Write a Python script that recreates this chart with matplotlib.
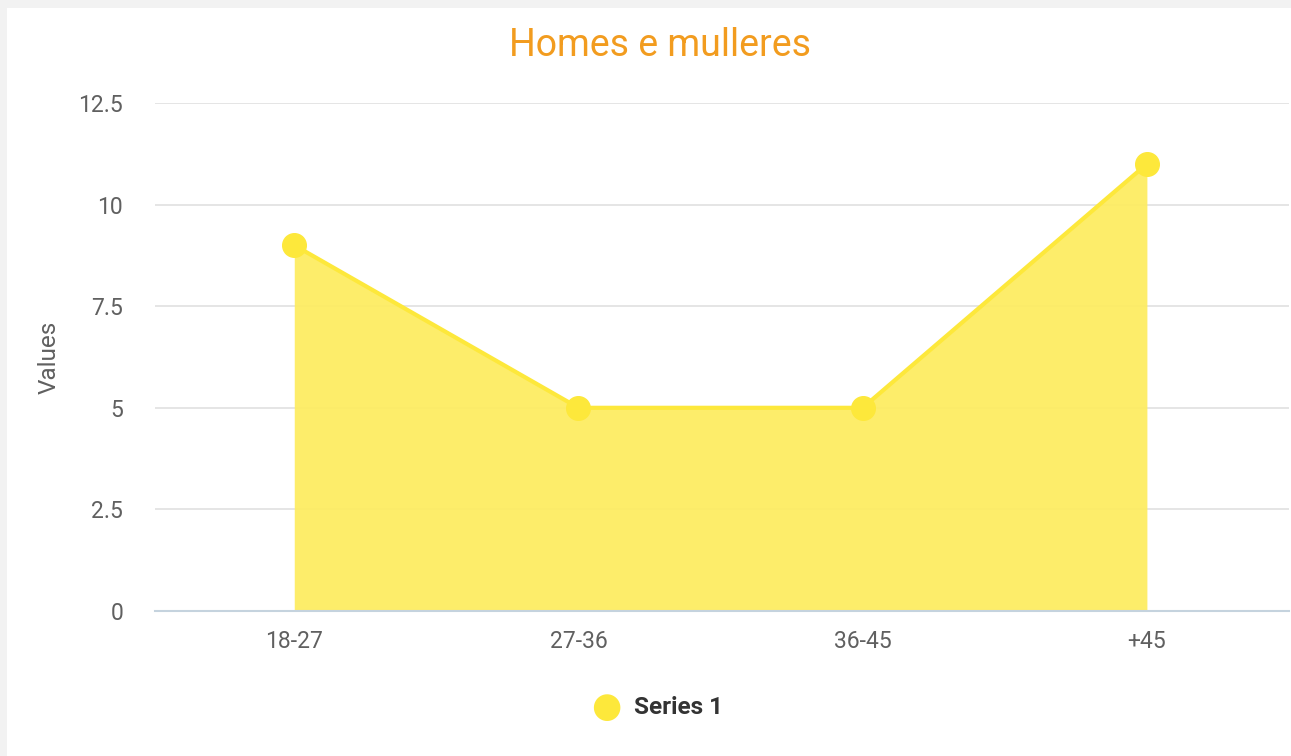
import matplotlib.pyplot as plt
from matplotlib.patches import Rectangle

plt.rcParams['font.family'] = ['Roboto', 'DejaVu Sans']

categories = ['18-27', '27-36', '36-45', '+45']
values = [9, 5, 5, 11]
yticks = [0, 2.5, 5, 7.5, 10, 12.5]
yticklabels = ['0', '2.5', '5', '7.5', '10', '12.5']

yellow = '#fde83b'
fill_yellow = '#fdec62'

fig = plt.figure(figsize=(12.91, 7.56), dpi=100)
fig.patch.set_facecolor('#f2f2f2')
# white card behind everything
fig.patches.append(Rectangle((7 / 1291, 0), 1 - 7 / 1291, 1 - 8 / 756,
                             transform=fig.transFigure, facecolor='white',
                             edgecolor='none', zorder=-10))

ax = fig.add_axes([155 / 1291, 1 - 611 / 756, 1134 / 1291, 508 / 756])
ax.set_facecolor('none')
x = list(range(len(categories)))
ax.fill_between(x, values, 0, color=fill_yellow, alpha=0.95, linewidth=0, zorder=2)
ax.plot(x, values, color=yellow, linewidth=3, zorder=3)
ax.plot(x, values, 'o', color=yellow, markersize=17, zorder=4)

ax.set_xlim(-0.49, len(categories) - 0.5)
ax.set_ylim(0, 12.5)
ax.set_yticks(yticks)
ax.set_yticklabels(yticklabels)
ax.set_xticks(x)
ax.set_xticklabels(categories)
ax.tick_params(axis='both', length=0, labelsize=16.5, colors='#606060')
ax.tick_params(axis='y', pad=23)
ax.tick_params(axis='x', pad=14)
ax.grid(axis='y', color='#e3e3e3', linewidth=1.3, zorder=0)
ax.set_axisbelow(True)
for s in ['top', 'right', 'left']:
    ax.spines[s].set_visible(False)
ax.spines['bottom'].set_color('#c5d3de')
ax.spines['bottom'].set_linewidth(1.5)
ax.spines['bottom'].set_zorder(5)

ax.set_ylabel('Values', fontsize=17.5, color='#606060', labelpad=13)

fig.text(660 / 1291, 1 - 45 / 756, 'Homes e mulleres', fontsize=27,
         color='#f29c1f', ha='center', va='center')

# legend
fig.text(606 / 1291, 1 - 707 / 756, '\u25cf', fontsize=25, color=yellow,
         ha='center', va='center', family=['DejaVu Sans'])
fig.text(634 / 1291, 1 - 707 / 756, 'Series 1', fontsize=17.5, fontweight='bold',
         color='#333333', ha='left', va='center')

fig.savefig('out.png', dpi=100, facecolor=fig.get_facecolor())
